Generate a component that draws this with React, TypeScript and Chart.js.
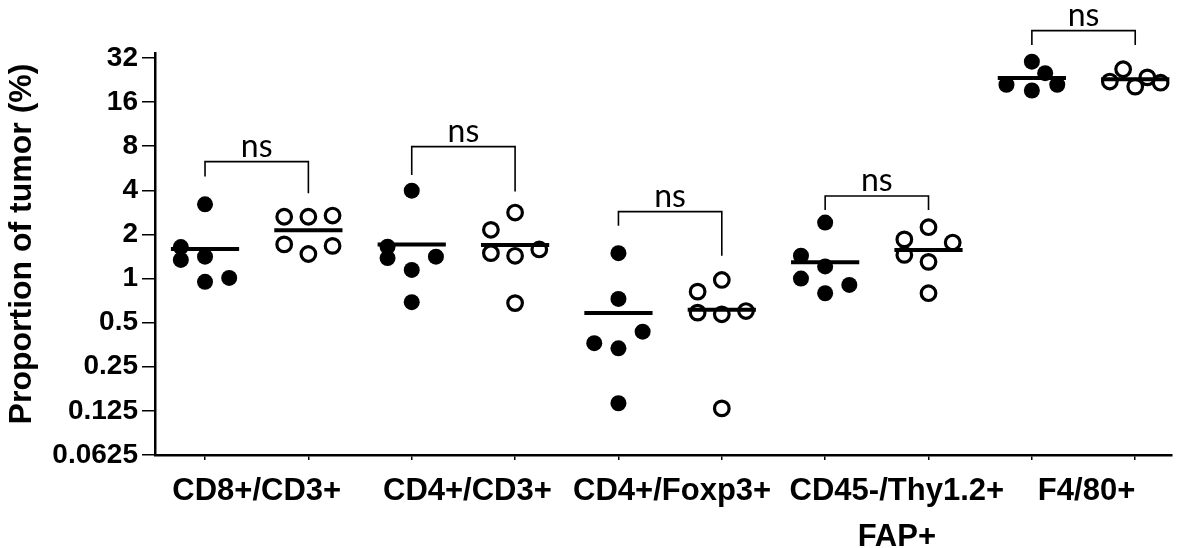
import React, { useEffect, useRef } from 'react';
import { Chart, registerables } from 'chart.js';

Chart.register(...registerables);

// ---------- data ----------
const CATEGORIES: (string | string[])[] = [
  'CD8+/CD3+',
  'CD4+/CD3+',
  'CD4+/Foxp3+',
  ['CD45-/Thy1.2+', 'FAP+'],
  'F4/80+',
];

const Y_TICKS = [0.0625, 0.125, 0.25, 0.5, 1, 2, 4, 8, 16, 32];

// filled circles (first group of each pair)
const FILLED_VALUES = [
  [3.21, 1.64, 1.34, 1.41, 0.95, 1.01],
  [3.98, 1.65, 1.38, 1.145, 1.41, 0.69],
  [1.49, 0.726, 0.434, 0.362, 0.334, 0.141],
  [2.41, 1.43, 1.21, 1.0, 0.905, 0.794],
  [30.2, 25.2, 21.0, 19.2, 21.0],
];
// horizontal scatter slot of each point (dot-plot spreading)
const FILLED_SLOTS = [
  [0, -1, -1, 0, 0, 1],
  [0, -1, -1, 0, 1, 0],
  [0, 0, 1, -1, 0, 0],
  [0, -1, 0, -1, 1, 0],
  [0, 0.55, -1.05, 0, 1.05],
];

// open circles (second group of each pair)
const OPEN_VALUES = [
  [2.64, 2.64, 2.69, 1.71, 1.47, 1.67],
  [2.82, 2.15, 1.49, 1.43, 1.58, 0.68],
  [0.978, 0.814, 0.585, 0.57, 0.6, 0.13],
  [2.24, 1.85, 1.76, 1.45, 1.3, 0.794],
  [26.8, 22.1, 20.4, 23.6, 21.7],
];
const OPEN_SLOTS = [
  [-1, 0, 1, -1, 0, 1],
  [0, -1, -1, 0, 1, 0],
  [0, -1, -1, 0, 1, 0],
  [0, -1, 1, -1, 0, 0],
  [-0.5, -1.05, 0, 0.5, 1.05],
];

// significance brackets (values on the y scale)
const BRACKET_TOP = [6.28, 7.95, 2.86, 3.66, 49.2];
const BRACKET_LEFT_END = [4.96, 5.09, 2.29, 2.94, 39.3];
const BRACKET_RIGHT_END = [3.82, 3.92, 1.43, 2.94, 39.3];
const BRACKET_LABELS = ['ns', 'ns', 'ns', 'ns', 'ns'];

// ---------- layout / style constants ----------
const SWARM_STEP = 0.234;
const MEAN_HALF = 0.33;
const LABEL_NUDGE_PX = [0, 4, 2, 20, 3];
const BOLD_FONT = '"Liberation Sans", Arial, sans-serif';
const NS_FONT = 'Lato, "Open Sans", sans-serif';

const mean = (a: number[]) => a.reduce((s, v) => s + v, 0) / a.length;

export default function App() {
  const ref = useRef<HTMLCanvasElement | null>(null);

  useEffect(() => {
    if (!ref.current) return;

    const filledPts = FILLED_VALUES.flatMap((vals, k) =>
      vals.map((v, i) => ({ x: 2 * k + FILLED_SLOTS[k][i] * SWARM_STEP, y: v }))
    );
    const openPts = OPEN_VALUES.flatMap((vals, k) =>
      vals.map((v, i) => ({ x: 2 * k + 1 + OPEN_SLOTS[k][i] * SWARM_STEP, y: v }))
    );

    const meanSets: any[] = [];
    CATEGORIES.forEach((_, k) => {
      [FILLED_VALUES[k], OPEN_VALUES[k]].forEach((vals, g) => {
        const col = 2 * k + g;
        const m = mean(vals);
        meanSets.push({
          data: [
            { x: col - MEAN_HALF, y: m },
            { x: col + MEAN_HALF, y: m },
          ],
          showLine: true,
          borderColor: '#000',
          borderWidth: 4,
          borderCapStyle: 'butt',
          pointRadius: 0,
          order: 0,
        });
      });
    });

    const bracketSets = CATEGORIES.map((_, k) => ({
      data: [
        { x: 2 * k, y: BRACKET_LEFT_END[k] },
        { x: 2 * k, y: BRACKET_TOP[k] },
        { x: 2 * k + 1, y: BRACKET_TOP[k] },
        { x: 2 * k + 1, y: BRACKET_RIGHT_END[k] },
      ],
      showLine: true,
      borderColor: '#000',
      borderWidth: 1.6,
      borderJoinStyle: 'miter',
      borderCapStyle: 'butt',
      pointRadius: 0,
      clip: false,
      order: 2,
    }));

    const textPlugin = {
      id: 'texts',
      afterDraw(chart: any) {
        const ctx = chart.ctx as CanvasRenderingContext2D;
        const xs = chart.scales.x;
        const ys = chart.scales.y;
        const area = chart.chartArea;
        ctx.save();
        ctx.fillStyle = '#000';

        // y axis title
        ctx.save();
        ctx.translate(22, 244);
        ctx.rotate(-Math.PI / 2);
        ctx.font = `bold 32px ${BOLD_FONT}`;
        ctx.textAlign = 'center';
        ctx.textBaseline = 'middle';
        ctx.fillText('Proportion of tumor (%)', 0, 0);
        ctx.restore();

        // category labels
        ctx.font = `bold 31px ${BOLD_FONT}`;
        ctx.textAlign = 'center';
        ctx.textBaseline = 'alphabetic';
        CATEGORIES.forEach((lab, k) => {
          const cx = xs.getPixelForValue(2 * k + 0.5) + LABEL_NUDGE_PX[k];
          const lines = Array.isArray(lab) ? lab : [lab];
          lines.forEach((ln, j) => {
            ctx.fillText(ln, cx, area.bottom + 45 + j * 46);
          });
        });

        // significance labels
        ctx.font = `32px ${NS_FONT}`;
        BRACKET_LABELS.forEach((lab, k) => {
          const cx = (xs.getPixelForValue(2 * k) + xs.getPixelForValue(2 * k + 1)) / 2;
          const y = ys.getPixelForValue(BRACKET_TOP[k]) - 5;
          ctx.fillText(lab, cx, y);
        });
        ctx.restore();
      },
    };

    const chart = new Chart(ref.current, {
      type: 'scatter',
      data: {
        datasets: [
          ...meanSets,
          {
            data: filledPts,
            pointRadius: 8,
            pointBackgroundColor: '#000',
            pointBorderColor: '#000',
            pointBorderWidth: 0,
            order: 1,
          },
          {
            data: openPts,
            pointRadius: 7.3,
            pointBackgroundColor: 'rgba(0,0,0,0)',
            pointBorderColor: '#000',
            pointBorderWidth: 3.2,
            order: 1,
          },
          ...bracketSets,
        ] as any,
      },
      options: {
        animation: false,
        responsive: false,
        maintainAspectRatio: false,
        layout: { padding: { left: 0, top: 53, right: 18.6, bottom: 0 } },
        plugins: { legend: { display: false }, tooltip: { enabled: false } },
        scales: {
          x: {
            type: 'linear',
            min: -0.484,
            max: 9.35,
            afterBuildTicks: (s: any) => {
              s.ticks = Array.from({ length: CATEGORIES.length * 2 }, (_, i) => ({ value: i }));
            },
            afterFit: (s: any) => {
              s.height = 93;
            },
            ticks: { autoSkip: false, callback: () => '', display: true },
            grid: {
              drawOnChartArea: false,
              drawTicks: true,
              tickLength: 5,
              color: '#000',
              lineWidth: 1.5,
            },
            border: { display: true, color: '#000', width: 2.5 },
          },
          y: {
            type: 'logarithmic',
            min: Y_TICKS[0],
            max: 34.6,
            afterBuildTicks: (s: any) => {
              s.ticks = Y_TICKS.map((v) => ({ value: v }));
            },
            afterFit: (s: any) => {
              s.width = 155;
            },
            ticks: {
              autoSkip: false,
              callback: (v: any) => String(v),
              color: '#000',
              padding: 4,
              font: { family: BOLD_FONT, size: 28, weight: 'bold' },
            },
            grid: {
              drawOnChartArea: false,
              drawTicks: true,
              tickLength: 13,
              color: '#000',
              lineWidth: 1.5,
            },
            border: { display: true, color: '#000', width: 2.5 },
          },
        },
      } as any,
      plugins: [textPlugin],
    });

    return () => chart.destroy();
  }, []);

  return (
    <div style={{ position: 'absolute', left: 0, top: 0, width: 1190, height: 548, background: '#fff' }}>
      <canvas ref={ref} width={1190} height={548} style={{ display: 'block', width: 1190, height: 548 }} />
    </div>
  );
}
